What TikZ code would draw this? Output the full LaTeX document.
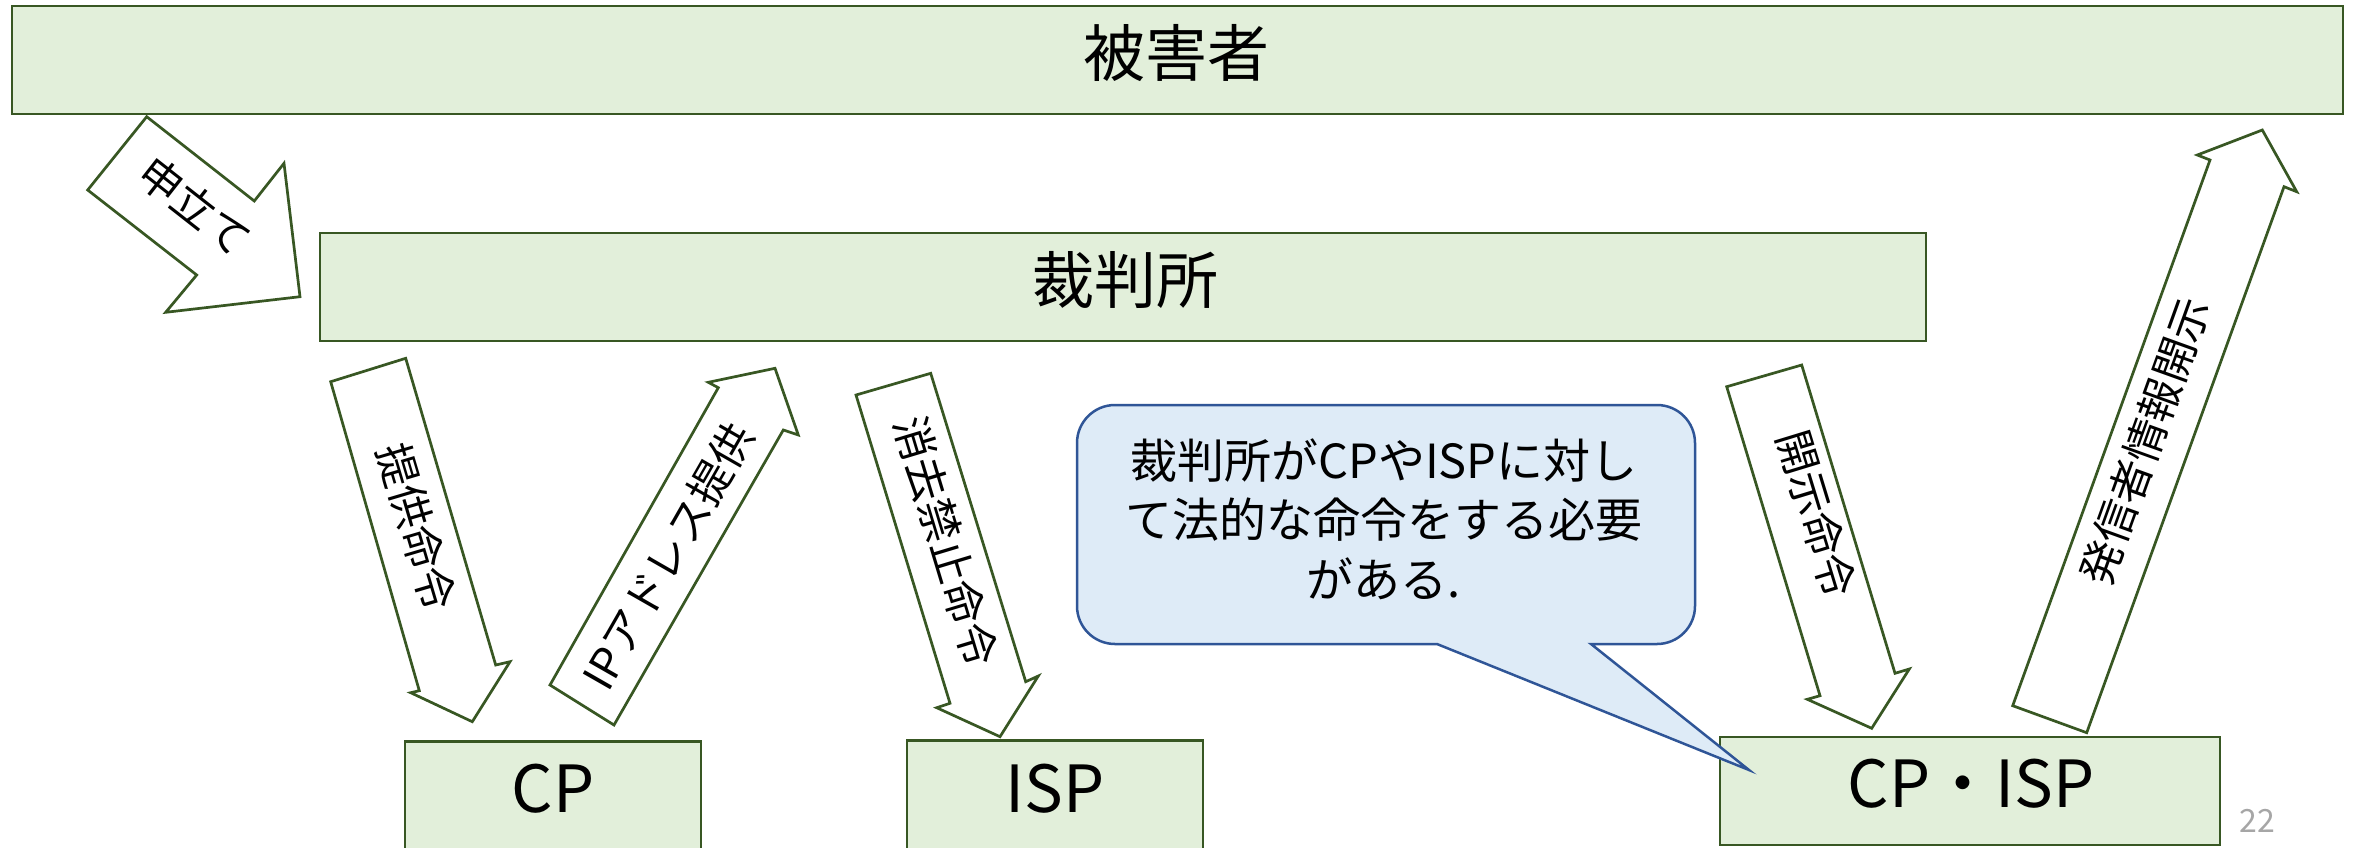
\documentclass[tikz,border=0pt]{standalone}
\usepackage{fontspec}
\setmainfont{Noto Sans CJK JP}
\definecolor{gfill}{HTML}{E2EFDA}
\definecolor{gline}{HTML}{385723}
\definecolor{cfill}{HTML}{DEEBF7}
\definecolor{cline}{HTML}{2F5597}
\definecolor{pgnum}{HTML}{A6A6A6}
\begin{document}
\begin{tikzpicture}[x=1pt,y=-1pt,
  box/.style={draw=gline, fill=gfill, line width=2.7pt, rectangle, inner sep=0pt},
  blockarrow/.style={draw=gline, fill=white, line width=2.7pt, line join=miter},
  bigtext/.style={font=\fontsize{62}{70}\selectfont, inner sep=0pt},
  boxtext/.style={font=\fontsize{65}{72}\selectfont, inner sep=0pt},
  alabel/.style={font=\fontsize{43}{50}\selectfont, inner sep=0pt},
  callout/.style={draw=cline, fill=cfill, line width=2.5pt, line join=miter}]
\useasboundingbox (0,0) rectangle (2358,847);
\fill[white] (0,0) rectangle (2358,847);
\clip (0,0) rectangle (2358,847);

% boxes
\node[box, minimum width=2331pt, minimum height=108pt] (victim) at (1177.5,60) {};
\node[bigtext] (victimtext) at (1176,53) {被害者};
\node[box, minimum width=1606pt, minimum height=108pt] (court) at (1123,287) {};
\node[bigtext] (courttext) at (1125,280) {裁判所};
\node[box, minimum width=296pt, minimum height=160pt] (cp) at (553,821.5) {};
\node[boxtext] (cptext) at (553,789) {CP};
\node[box, minimum width=296pt, minimum height=160pt] (isp) at (1055,820.5) {};
\node[boxtext] (isptext) at (1055,789) {ISP};
\node[box, minimum width=500pt, minimum height=108pt] (cpisp) at (1970,791) {};
\node[boxtext] (cpisptext) at (1971,784) {CP・ISP};

% block arrows
\draw[blockarrow] (146.7,116.7) -- (254.3,201) -- (284,163.3) -- (300,296.7) -- (165.7,312.3) -- (196.7,275) -- (87.7,190) -- cycle;
\node[alabel, rotate=-38.1] (l1) at (195,206) {申立て};

\draw[blockarrow] (330.7,381.7) -- (405.7,358.3) -- (495.7,665) -- (510,661.7) -- (472.3,721.7) -- (410.7,692.7) -- (419.3,690.7) -- cycle;
\node[alabel, rotate=-73.5] (l2) at (417,527) {提供命令};

\draw[blockarrow] (550,685) -- (718.3,387.7) -- (708.3,382.3) -- (775,368.3) -- (798.3,435) -- (783.3,430) -- (614,725) -- cycle;
\node[alabel, rotate=60.2] (l3) at (668,556) {IPアドレス提供};

\draw[blockarrow] (856,395) -- (930.7,373.3) -- (1025.7,681.7) -- (1038.3,676) -- (1000,736.7) -- (936.7,707.7) -- (950,703.3) -- cycle;
\node[alabel, rotate=-73.2] (l4) at (946,541) {消去禁止命令};

\draw[blockarrow] (1726.7,386.7) -- (1801.7,365) -- (1895,673.3) -- (1909.3,669) -- (1871.7,728.3) -- (1807.3,699.3) -- (1820,695.7) -- cycle;
\node[alabel, rotate=-73] (l5) at (1817,514) {開示命令};

\draw[blockarrow] (2012.7,705.7) -- (2210,160) -- (2197.3,155) -- (2262.3,130) -- (2296.7,191.7) -- (2284,186.7) -- (2086.7,732.7) -- cycle;
\node[alabel, rotate=70.2] (l6) at (2145,441) {発信者情報開示};

% callout
\draw[callout, rounded corners=38pt] (1620,644) -- (1695,644) -- (1695,405) -- (1077,405) -- (1077,644) -- (1300,644) [sharp corners] -- (1437,644) -- (1749,770) -- (1591,644) -- cycle;
\node[font=\fontsize{47}{59.5}\selectfont, align=center, inner sep=0pt] (note) at (1384,519) {裁判所がCPやISPに対し\\て法的な命令をする必要\\がある.};

% page number
\node[font=\fontsize{32}{36}\selectfont, text=pgnum, inner sep=0pt] (pagenum) at (2257,821) {22};
\end{tikzpicture}
\end{document}
